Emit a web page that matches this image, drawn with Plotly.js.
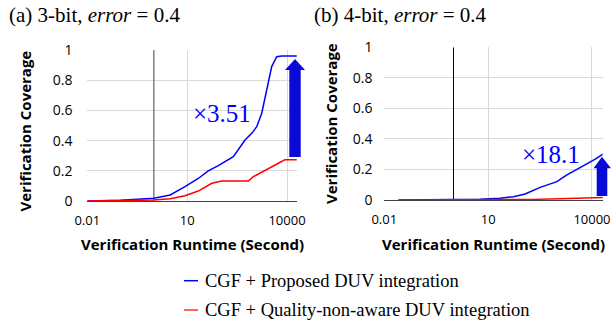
<!DOCTYPE html>
<html>
<head>
<meta charset="utf-8">
<script src="https://cdn.plot.ly/plotly-3.0.1.min.js"></script>
<style>html,body{margin:0;padding:0;background:#fff;}#chart{width:611px;height:324px;}</style>
</head>
<body>
<div id="chart"></div>
<script>
// Panel (a) 3-bit
const aBlueX = [0.01, 0.1, 1, 3.1, 8.6, 21.6, 43, 86, 244, 344, 548, 871, 1230, 1740, 2190, 2760, 3470, 4900, 6920, 19600];
const aBlueY = [0, 0.005, 0.018, 0.04, 0.095, 0.149, 0.199, 0.234, 0.293, 0.338, 0.404, 0.448, 0.492, 0.581, 0.68, 0.79, 0.89, 0.956, 0.96, 0.96];
const aRedX = [0.01, 1, 3.1, 8.6, 21.6, 55, 110, 689, 973, 2190, 5500, 8720, 19600];
const aRedY = [0, 0.006, 0.015, 0.035, 0.066, 0.117, 0.132, 0.132, 0.161, 0.205, 0.25, 0.274, 0.274];
// Panel (b) 4-bit
const bBlueX = [0.0254, 1, 5.85, 22.1, 54, 117, 164, 319, 970, 1890, 3670, 7160, 12400, 20800];
const bBlueY = [0, 0.002, 0.005, 0.011, 0.022, 0.039, 0.054, 0.083, 0.12, 0.164, 0.201, 0.236, 0.268, 0.301];
const bRedX = [0.037, 10, 205, 2000, 20800];
const bRedY = [0, 0, 0.004, 0.01, 0.017];
// axis crossing line at x = 1
const crossX = [1, 1];
const crossY = [0, 1];

const xTickVals = [0.01, 10, 10000];
const xTickText = ['0.01', '10', '10000'];
const yTickVals = [0, 0.2, 0.4, 0.6, 0.8, 1];
const yTickText = ['0', '0.2', '0.4', '0.6', '0.8', '1'];

const seriesNames = ['CGF + Proposed DUV integration', 'CGF + Quality-non-aware DUV integration'];
const panelTitles = ['(a) 3-bit, <i>error</i> = 0.4', '(b) 4-bit, <i>error</i> = 0.4'];
const gainLabels = ['×3.51', '×18.1'];

const W = 611, H = 324;
const px = v => v / W;
const py = v => 1 - v / H;

const BLUE = '#0000ff', RED = '#ff0000', ARROW = '#0a0ad8';

const traces = [
  {x: crossX, y: crossY, xaxis: 'x', yaxis: 'y', mode: 'lines', line: {color: '#404040', width: 1}, showlegend: false, hoverinfo: 'skip'},
  {x: aBlueX, y: aBlueY, xaxis: 'x', yaxis: 'y', mode: 'lines', name: seriesNames[0], line: {color: BLUE, width: 1.5}, showlegend: false},
  {x: aRedX, y: aRedY, xaxis: 'x', yaxis: 'y', mode: 'lines', name: seriesNames[1], line: {color: RED, width: 1.5}, showlegend: false},
  {x: crossX, y: crossY, xaxis: 'x2', yaxis: 'y2', mode: 'lines', line: {color: '#000000', width: 1}, showlegend: false, hoverinfo: 'skip'},
  {x: bBlueX, y: bBlueY, xaxis: 'x2', yaxis: 'y2', mode: 'lines', name: seriesNames[0], line: {color: BLUE, width: 1.5}, showlegend: false},
  {x: bRedX, y: bRedY, xaxis: 'x2', yaxis: 'y2', mode: 'lines', name: seriesNames[1], line: {color: RED, width: 1.5}, showlegend: false}
];

const xTickFont = {family: 'Open Sans, sans-serif', size: 13, color: '#000'};
const yTickFont = {family: 'Open Sans, sans-serif', size: 14, color: '#000'};
const GRID = '#d9d9d9';

function xAxis(domain, rmax, anchor) {
  return {
    type: 'log', domain: domain, range: [-2, rmax], anchor: anchor,
    tickmode: 'array', tickvals: xTickVals, ticktext: xTickText,
    showgrid: true, gridcolor: GRID, gridwidth: 1,
    showline: true, linecolor: '#404040', linewidth: 1,
    zeroline: false, ticks: 'outside', ticklen: 7, tickcolor: 'rgba(0,0,0,0)',
    tickfont: xTickFont, fixedrange: true
  };
}
function yAxis(domain, anchor, tl) {
  return {
    domain: domain, range: [0, 1], anchor: anchor,
    tickmode: 'array', tickvals: yTickVals, ticktext: yTickText,
    showgrid: true, gridcolor: GRID, gridwidth: 1,
    showline: false, zeroline: false,
    ticks: 'outside', ticklen: tl, tickcolor: 'rgba(0,0,0,0)',
    tickfont: yTickFont, fixedrange: true
  };
}

const axTitleFont = {family: 'Open Sans, sans-serif', size: 15, color: '#000'};
const serif = 'Liberation Serif, Times New Roman, serif';

function blockArrow(cx, tipY, headBaseY, bottomY, bodyHalf, headL, headR) {
  const p = `M${px(cx)},${py(tipY)} L${px(headR)},${py(headBaseY)} L${px(cx + bodyHalf)},${py(headBaseY)} ` +
    `L${px(cx + bodyHalf)},${py(bottomY)} L${px(cx - bodyHalf)},${py(bottomY)} L${px(cx - bodyHalf)},${py(headBaseY)} ` +
    `L${px(headL)},${py(headBaseY)} Z`;
  return {type: 'path', xref: 'paper', yref: 'paper', path: p, fillcolor: ARROW, line: {width: 0}};
}

const layout = {
  width: W, height: H,
  margin: {l: 0, r: 0, t: 0, b: 0},
  paper_bgcolor: '#fff', plot_bgcolor: '#fff',
  showlegend: false,
  xaxis: xAxis([px(87.3), px(297)], 4.3, 'y'),
  yaxis: yAxis([py(201), py(50)], 'x', 11),
  xaxis2: xAxis([px(384.3), px(602.7)], 4.31, 'y2'),
  yaxis2: yAxis([py(200), py(47.3)], 'x2', 8),
  shapes: [
    blockArrow(295, 59, 70, 157, 5.7, 285, 305),
    blockArrow(602, 156.7, 168.3, 196, 5.3, 593.5, 611),
    {type: 'line', xref: 'paper', yref: 'paper', x0: px(184), x1: px(198), y0: py(280.7), y1: py(280.7), line: {color: BLUE, width: 1.5}},
    {type: 'line', xref: 'paper', yref: 'paper', x0: px(184), x1: px(198), y0: py(310), y1: py(310), line: {color: '#ff3030', width: 1.5}}
  ],
  annotations: [
    {text: panelTitles[0], xref: 'paper', yref: 'paper', x: px(7), y: py(15), xanchor: 'left', yanchor: 'middle', showarrow: false, font: {family: serif, size: 21, color: '#000'}},
    {text: panelTitles[1], xref: 'paper', yref: 'paper', x: px(311.5), y: py(15), xanchor: 'left', yanchor: 'middle', showarrow: false, font: {family: serif, size: 21, color: '#000'}},
    {text: '<b>Verification Coverage</b>', xref: 'paper', yref: 'paper', x: px(24), y: py(131.5), textangle: -90, xanchor: 'center', yanchor: 'middle', showarrow: false, font: axTitleFont},
    {text: '<b>Verification Coverage</b>', xref: 'paper', yref: 'paper', x: px(331), y: py(124), textangle: -90, xanchor: 'center', yanchor: 'middle', showarrow: false, font: axTitleFont},
    {text: '<b>Verification Runtime (Second)</b>', xref: 'paper', yref: 'paper', x: px(192), y: py(244), xanchor: 'center', yanchor: 'middle', showarrow: false, font: axTitleFont},
    {text: '<b>Verification Runtime (Second)</b>', xref: 'paper', yref: 'paper', x: px(493), y: py(244), xanchor: 'center', yanchor: 'middle', showarrow: false, font: axTitleFont},
    {text: gainLabels[0], xref: 'paper', yref: 'paper', x: px(221.5), y: py(113), xanchor: 'center', yanchor: 'middle', showarrow: false, font: {family: serif, size: 25, color: BLUE}},
    {text: gainLabels[1], xref: 'paper', yref: 'paper', x: px(551), y: py(154), xanchor: 'center', yanchor: 'middle', showarrow: false, font: {family: serif, size: 25, color: BLUE}},
    {text: seriesNames[0], xref: 'paper', yref: 'paper', x: px(203), y: py(281), xanchor: 'left', yanchor: 'middle', showarrow: false, font: {family: serif, size: 18.5, color: '#000'}},
    {text: seriesNames[1], xref: 'paper', yref: 'paper', x: px(203), y: py(310), xanchor: 'left', yanchor: 'middle', showarrow: false, font: {family: serif, size: 18.5, color: '#000'}}
  ]
};

Plotly.newPlot('chart', traces, layout, {staticPlot: true, displayModeBar: false});
</script>
</body>
</html>
